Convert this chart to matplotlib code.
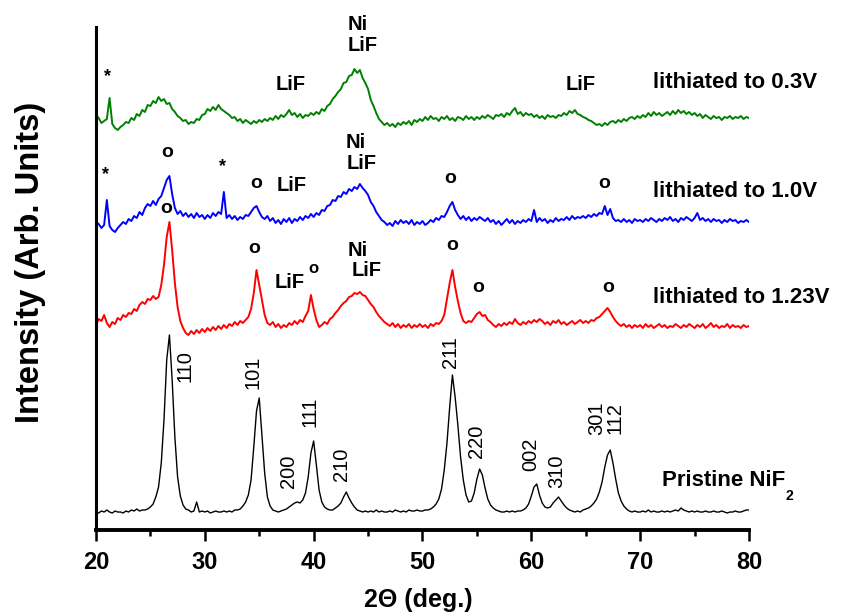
import numpy as np
import matplotlib
matplotlib.use('Agg')
import matplotlib.pyplot as plt
from matplotlib.ticker import MultipleLocator

plt.rcParams['font.family'] = ['Liberation Sans', 'DejaVu Sans']

# scan grid: 2theta from 20 to 80 deg in 0.25 deg steps
two_theta = np.linspace(20, 80, 241)

# intensities (arb. units) above each pattern's own baseline, one row = 5 deg
lith_03V = [15, 12, 7, 9, 11, 32, 6, 2, 0, 3, 5, 8, 7, 12, 10, 16, 14, 20, 18, 25,
            24, 29, 27, 33, 29, 31, 26, 27, 21, 18, 14, 12, 9, 10, 6, 8, 7, 11, 10, 15,
            16, 21, 19, 23, 20, 25, 21, 19, 17, 15, 12, 13, 9, 11, 7, 10, 8, 6, 9, 7,
            10, 8, 11, 9, 12, 10, 14, 11, 15, 13, 16, 20, 15, 17, 13, 16, 12, 15, 14, 17,
            15, 18, 16, 21, 19, 24, 26, 31, 34, 38, 41, 47, 48, 54, 55, 61, 57, 60, 52, 47,
            41, 30, 24, 17, 11, 8, 5, 7, 4, 6, 3, 7, 5, 8, 6, 9, 5, 10, 8, 11,
            9, 13, 10, 14, 11, 12, 9, 13, 11, 14, 10, 12, 9, 13, 12, 10, 14, 11, 13, 10,
            13, 11, 14, 12, 15, 13, 11, 15, 14, 16, 13, 17, 15, 19, 22, 16, 18, 14, 17, 15,
            16, 13, 15, 12, 14, 11, 15, 13, 14, 12, 15, 14, 17, 15, 19, 17, 20, 16, 15, 13,
            12, 10, 9, 7, 5, 6, 4, 7, 5, 8, 9, 7, 10, 8, 11, 9, 12, 13, 11, 14,
            12, 15, 13, 17, 14, 18, 15, 17, 14, 16, 18, 15, 19, 16, 20, 17, 19, 16, 18, 15,
            17, 14, 16, 12, 15, 13, 11, 14, 12, 13, 10, 13, 12, 14, 11, 13, 12, 14, 11, 13,
            12]

lith_10V = [10, 8, 4, 7, 32, 6, 2, 0, 4, 7, 10, 8, 13, 11, 16, 14, 20, 17, 24, 28,
            26, 31, 27, 33, 36, 44, 52, 56, 38, 24, 18, 21, 16, 19, 15, 18, 14, 19, 15, 17,
            13, 17, 14, 19, 16, 20, 18, 40, 14, 17, 13, 16, 12, 15, 13, 17, 16, 20, 24, 26,
            20, 15, 13, 16, 11, 14, 9, 12, 8, 13, 10, 14, 9, 13, 11, 15, 12, 16, 14, 18,
            15, 19, 17, 22, 21, 26, 27, 32, 31, 36, 35, 40, 38, 43, 41, 45, 43, 48, 44, 41,
            37, 30, 26, 20, 16, 12, 10, 7, 9, 6, 11, 8, 12, 9, 11, 8, 12, 7, 10, 8,
            11, 7, 9, 12, 10, 14, 12, 16, 15, 20, 26, 30, 22, 17, 13, 16, 12, 15, 11, 14,
            12, 15, 13, 11, 14, 10, 12, 8, 11, 7, 10, 13, 9, 12, 8, 11, 9, 12, 10, 13,
            11, 22, 10, 14, 11, 13, 9, 12, 10, 14, 11, 13, 12, 15, 12, 16, 13, 15, 14, 16,
            14, 17, 15, 18, 16, 19, 18, 26, 17, 23, 14, 11, 12, 10, 13, 10, 12, 9, 13, 11,
            12, 10, 13, 11, 14, 12, 10, 13, 11, 14, 12, 15, 11, 13, 10, 14, 12, 15, 13, 11,
            14, 19, 12, 14, 11, 13, 10, 13, 11, 12, 9, 12, 10, 13, 11, 12, 9, 11, 10, 12,
            10]

lith_123V = [8, 14, 12, 18, 10, 6, 11, 9, 15, 13, 18, 16, 20, 19, 24, 22, 28, 31, 29, 34,
             33, 37, 34, 36, 48, 68, 96, 111, 83, 50, 26, 12, 5, 0, -2, 2, -1, 3, 0, 4,
             1, 5, 2, 6, 3, 7, 4, 8, 5, 9, 7, 11, 8, 12, 10, 13, 16, 24, 40, 63,
             48, 33, 18, 10, 8, 11, 6, 9, 5, 8, 6, 10, 8, 12, 9, 13, 11, 17, 22, 38,
             24, 13, 6, 8, 11, 9, 14, 16, 20, 23, 27, 30, 32, 36, 37, 40, 39, 41, 38, 37,
             33, 29, 26, 21, 17, 14, 11, 9, 7, 10, 6, 9, 5, 8, 6, 9, 5, 8, 6, 9,
             6, 8, 5, 9, 7, 10, 9, 12, 18, 34, 50, 63, 46, 32, 20, 12, 10, 12, 11, 15,
             19, 21, 17, 18, 13, 11, 8, 6, 9, 7, 10, 8, 11, 9, 14, 10, 8, 11, 9, 12,
             10, 13, 11, 14, 12, 9, 11, 8, 12, 10, 13, 9, 11, 8, 10, 12, 9, 11, 13, 10,
             12, 10, 13, 12, 15, 16, 19, 22, 25, 21, 16, 12, 9, 7, 9, 6, 8, 5, 8, 6,
             8, 5, 9, 6, 8, 5, 7, 9, 6, 8, 5, 7, 6, 9, 7, 5, 8, 6, 9, 7,
             5, 8, 6, 9, 5, 7, 10, 6, 8, 5, 7, 6, 9, 5, 8, 6, 7, 5, 8, 6,
             7]

pristine = [3, 2, 4, 3, 5, 3, 2, 4, 3, 3, 2, 4, 3, 5, 4, 6, 4, 5, 5, 6,
            8, 11, 18, 28, 52, 95, 155, 180, 135, 78, 38, 19, 10, 6, 5, 3, 4, 13, 3, 4,
            3, 4, 2, 3, 4, 3, 3, 4, 3, 4, 3, 5, 5, 6, 9, 13, 20, 35, 68, 104,
            117, 80, 42, 18, 9, 5, 4, 3, 4, 5, 6, 8, 10, 12, 13, 12, 15, 22, 38, 62,
            74, 50, 25, 13, 8, 6, 5, 5, 7, 9, 12, 18, 23, 17, 12, 8, 5, 4, 3, 4,
            3, 4, 3, 5, 3, 4, 3, 3, 4, 3, 5, 4, 3, 4, 3, 5, 4, 4, 5, 4,
            4, 5, 5, 6, 8, 11, 16, 26, 45, 72, 108, 140, 118, 90, 58, 35, 20, 13, 14, 22,
            36, 46, 40, 27, 16, 10, 7, 5, 4, 3, 3, 4, 3, 4, 3, 4, 4, 5, 7, 11,
            19, 28, 31, 20, 12, 8, 7, 8, 12, 15, 18, 14, 10, 7, 5, 4, 3, 4, 3, 5,
            6, 7, 9, 12, 16, 23, 33, 48, 60, 65, 52, 36, 22, 14, 9, 6, 4, 3, 4, 3,
            3, 4, 3, 5, 3, 4, 3, 3, 4, 3, 4, 3, 4, 5, 4, 7, 5, 4, 3, 4,
            3, 4, 3, 3, 4, 3, 3, 4, 3, 3, 4, 3, 2, 3, 3, 4, 3, 3, 4, 5,
            5]

series_labels = ['lithiated to 0.3V', 'lithiated to 1.0V', 'lithiated to 1.23V']
hkl = ['110', '101', '200', '111', '210', '211', '220', '002', '310', '301', '112']

fig = plt.figure(figsize=(8.47, 6.15), dpi=100)
ax = fig.add_axes([0.1133, 0.1382, 0.771, 0.8179])

# stacked patterns, top to bottom
stack = [(lith_03V, 400, '#008000', 1.4),
         (lith_10V, 298, '#0000ff', 1.4),
         (lith_123V, 197, '#ff0000', 1.4),
         (pristine, 15, 'black', 1.0)]
for ys, off, col, lw in stack:
    ax.plot(two_theta, np.array(ys) + off, color=col, lw=lw)

ax.set_xlim(20, 80)
ax.set_ylim(0, 503)
ax.set_yticks([])
for s in ['top', 'right']:
    ax.spines[s].set_visible(False)
ax.spines['left'].set_linewidth(2.2)
ax.spines['bottom'].set_linewidth(2.8)
ax.xaxis.set_major_locator(MultipleLocator(10))
ax.xaxis.set_minor_locator(MultipleLocator(5))
ax.tick_params(axis='x', which='major', length=8, width=1.8, pad=7, labelsize=17)
ax.tick_params(axis='x', which='minor', length=4.5, width=1.8)
for t in ax.get_xticklabels():
    t.set_fontweight('bold')

ax.set_xlabel('2\u0398 (deg.)', fontsize=18, fontweight='bold', va='center')
ax.xaxis.set_label_coords(0.493, -0.139)
ax.set_ylabel('Intensity (Arb. Units)', fontsize=23.5, fontweight='bold', va='center')
ax.yaxis.set_label_coords(-0.101, 0.533)

# series names
for name, y in zip(series_labels, [447, 339, 233]):
    ax.text(71.2, y, name, fontsize=16, fontweight='bold', ha='left', va='center')
tp = ax.text(72.0, 50, 'Pristine NiF', fontsize=16, fontweight='bold', ha='left', va='center')
ax.annotate('2', xy=(1, 0.08), xycoords=tp, fontsize=10, fontweight='bold', ha='left', va='top')

# Miller indices of the pristine NiF2 reflections
hkl_xy = [(28.18, 164), (34.43, 158), (37.73, 59), (39.66, 118), (42.60, 66),
          (52.53, 178), (54.92, 89), (59.97, 76), (62.36, 59), (66.03, 112), (67.69, 112)]
for lab, (x, y) in zip(hkl, hkl_xy):
    ax.text(x, y, lab, fontsize=14.5, rotation=90, ha='center', va='center')

# phase markers: LiF, Ni, o = NiF2 reflections, * = unknown
marks = [('*', 21.10, 453, 13), ('LiF', 37.92, 445, 14.5), ('LiF', 64.57, 445, 14.5),
         ('Ni', 44.07, 505, 14.5), ('LiF', 44.53, 484, 14.5),
         ('o', 26.52, 378, 14), ('Ni', 43.89, 388, 14.5), ('LiF', 44.44, 367, 14.5),
         ('*', 20.92, 355, 13), ('*', 31.58, 363, 13), ('o', 34.70, 347, 14),
         ('LiF', 38.01, 345, 14.5), ('o', 52.53, 352, 14), ('o', 66.68, 347, 14),
         ('o', 26.43, 322, 14), ('o', 34.52, 282, 14), ('o', 52.71, 285, 14),
         ('LiF', 37.83, 248, 14.5), ('o', 39.94, 262, 12), ('Ni', 44.07, 280, 14.5),
         ('LiF', 44.90, 260, 14.5), ('o', 55.10, 243, 14), ('o', 67.05, 243, 14)]
for txt, x, y, fs in marks:
    ax.text(x, y, txt, fontsize=fs, fontweight='bold', ha='center', va='center')

fig.savefig('out.png', dpi=100)
